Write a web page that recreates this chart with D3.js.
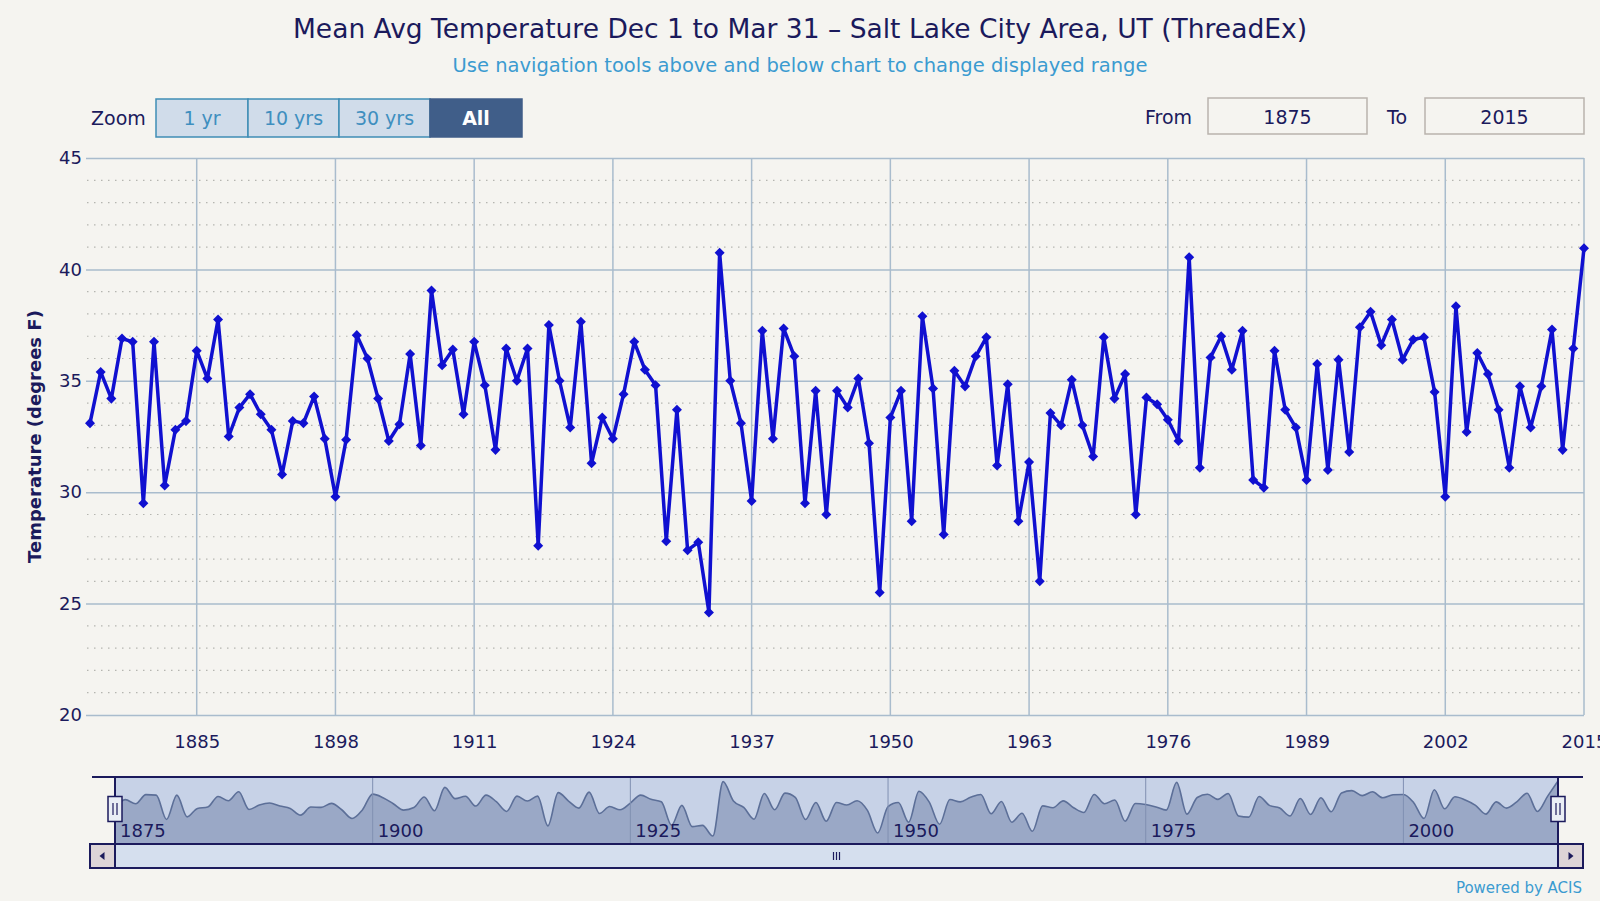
<!DOCTYPE html>
<html>
<head>
<meta charset="utf-8">
<script src="https://cdn.jsdelivr.net/npm/d3@7"></script>
<style>
  html, body { margin: 0; padding: 0; background: #f5f4f0; }
  svg { display: block; font-family: "DejaVu Sans", Verdana, sans-serif; }
</style>
</head>
<body>
<svg id="chart" width="1600" height="901"></svg>
<script>
// Mean Dec 1 - Mar 31 temperature, one value per winter
const startYear = 1875;
const temps = [
  33.1, 35.4, 34.2, 36.9, 36.75, 29.5, 36.75, 30.3, 32.8, 33.2,   // 1875-1884
  36.35, 35.1, 37.75, 32.5, 33.8, 34.4, 33.5, 32.8, 30.8, 33.2,   // 1885-1894
  33.1, 34.3, 32.4, 29.8, 32.35, 37.05, 36.0, 34.2, 32.3, 33.05,  // 1895-1904
  36.2, 32.1, 39.05, 35.7, 36.4, 33.5, 36.75, 34.8, 31.9, 36.45,  // 1905-1914
  35.0, 36.45, 27.6, 37.5, 35.0, 32.9, 37.65, 31.3, 33.35, 32.4,  // 1915-1924
  34.4, 36.75, 35.5, 34.8, 27.8, 33.7, 27.4, 27.75, 24.6, 40.75,  // 1925-1934
  35.0, 33.1, 29.6, 37.25, 32.4, 37.35, 36.1, 29.5, 34.55, 29.0,  // 1935-1944
  34.55, 33.8, 35.1, 32.2, 25.5, 33.35, 34.55, 28.7, 37.9, 34.65, // 1945-1954
  28.1, 35.45, 34.75, 36.1, 36.95, 31.2, 34.85, 28.7, 31.35, 26.0, // 1955-1964
  33.55, 33.0, 35.05, 33.0, 31.6, 36.95, 34.2, 35.3, 29.0, 34.25,  // 1965-1974
  33.95, 33.25, 32.3, 40.55, 31.1, 36.05, 37.0, 35.5, 37.25, 30.55, // 1975-1984
  30.2, 36.35, 33.7, 32.9, 30.55, 35.75, 31.0, 35.95, 31.8, 37.4,   // 1985-1994
  38.1, 36.6, 37.75, 35.95, 36.85, 36.95, 34.5, 29.8, 38.35, 32.7,  // 1995-2004
  36.25, 35.3, 33.7, 31.1, 34.75, 32.9, 34.75, 37.3, 31.9, 36.45,   // 2005-2014
  40.95                                                             // 2015
];
const years = temps.map((t, i) => startYear + i);
const data = years.map((y, i) => ({ year: y, temp: temps[i] }));

const xTickYears = [1885, 1898, 1911, 1924, 1937, 1950, 1963, 1976, 1989, 2002, 2015];
const yTicks = [20, 25, 30, 35, 40, 45];
const navTickYears = [1875, 1900, 1925, 1950, 1975, 2000];
const zoomButtons = ['1 yr', '10 yrs', '30 yrs', 'All'];

const titleText = 'Mean Avg Temperature Dec 1 to Mar 31 \u2013 Salt Lake City Area, UT (ThreadEx)';
const subtitleText = 'Use navigation tools above and below chart to change displayed range';

const navy = '#1b1a5c';
const gridColor = '#a9bccd';
const lineColor = '#1010d0';

const svg = d3.select('#chart');

// ---------- title ----------
svg.append('text')
    .attr('x', 800).attr('y', 38)
    .attr('text-anchor', 'middle')
    .attr('font-size', 26.5)
    .attr('fill', navy)
    .text(titleText);

svg.append('text')
    .attr('x', 800).attr('y', 72)
    .attr('text-anchor', 'middle')
    .attr('font-size', 19.5)
    .attr('fill', '#3b9bd0')
    .text(subtitleText);

// ---------- range selector ----------
svg.append('text')
    .attr('x', 91).attr('y', 125)
    .attr('font-size', 19)
    .attr('fill', navy)
    .text('Zoom');

const btnX = [156, 248, 339, 430, 522];
const btn = svg.append('g').selectAll('g')
  .data(zoomButtons)
  .join('g');
btn.append('rect')
    .attr('x', (d, i) => btnX[i])
    .attr('y', 99)
    .attr('width', (d, i) => btnX[i + 1] - btnX[i])
    .attr('height', 38)
    .attr('fill', d => d === 'All' ? '#405e89' : '#d0dcea')
    .attr('stroke', d => d === 'All' ? '#405e89' : '#3f8db5')
    .attr('stroke-width', 1.5);
btn.append('text')
    .attr('x', (d, i) => (btnX[i] + btnX[i + 1]) / 2)
    .attr('y', 125)
    .attr('text-anchor', 'middle')
    .attr('font-size', 19)
    .attr('font-weight', d => d === 'All' ? 'bold' : 'normal')
    .attr('fill', d => d === 'All' ? '#ffffff' : '#3f8fbf')
    .text(d => d);

function inputBox(label, labelX, x, value) {
  svg.append('text')
      .attr('x', labelX).attr('y', 124)
      .attr('font-size', 19)
      .attr('fill', navy)
      .text(label);
  svg.append('rect')
      .attr('x', x).attr('y', 98)
      .attr('width', 159).attr('height', 36)
      .attr('fill', '#f5f4f0')
      .attr('stroke', '#b9b3ad')
      .attr('stroke-width', 1.5);
  svg.append('text')
      .attr('x', x + 79.5).attr('y', 124)
      .attr('text-anchor', 'middle')
      .attr('font-size', 19)
      .attr('fill', navy)
      .text(value);
}
inputBox('From', 1145, 1208, years[0]);
inputBox('To', 1387, 1425, years[years.length - 1]);

// ---------- main plot ----------
const plot = { left: 90, right: 1584, top: 158, bottom: 715 };

const x = d3.scaleLinear()
    .domain([startYear, years[years.length - 1]])
    .range([plot.left, plot.right]);
const y = d3.scaleLinear()
    .domain([20, 45])
    .range([plot.bottom, plot.top]);

// minor dotted grid every degree
const minor = d3.range(21, 45).filter(v => v % 5 !== 0);
svg.append('g').selectAll('line')
  .data(minor)
  .join('line')
    .attr('x1', plot.left - 3).attr('x2', plot.right)
    .attr('y1', d => y(d)).attr('y2', d => y(d))
    .attr('stroke', '#b5b5b0')
    .attr('stroke-width', 1.2)
    .attr('stroke-dasharray', '1.5,5.5');

// major horizontal grid + y axis labels
const yAxis = d3.axisLeft(y)
    .tickValues(yTicks)
    .tickSize(plot.right - plot.left + 4)
    .tickPadding(4);
svg.append('g')
    .attr('transform', `translate(${plot.right},0)`)
    .call(yAxis)
    .call(g => g.select('.domain').remove())
    .call(g => g.selectAll('.tick line').attr('stroke', gridColor).attr('stroke-width', 1.5))
    .call(g => g.selectAll('.tick text')
        .attr('font-size', 18).attr('fill', navy)
        .attr('font-family', '"DejaVu Sans", Verdana, sans-serif'));

// vertical grid + x axis labels
const xAxis = d3.axisBottom(x)
    .tickValues(xTickYears)
    .tickFormat(d3.format('d'))
    .tickSize(0)
    .tickPadding(20);
svg.append('g')
    .attr('transform', `translate(0,${plot.bottom})`)
    .call(xAxis)
    .call(g => g.select('.domain').remove())
    .call(g => g.selectAll('.tick text')
        .attr('font-size', 18).attr('fill', navy)
        .attr('font-family', '"DejaVu Sans", Verdana, sans-serif'));

svg.append('g').selectAll('line')
  .data(xTickYears)
  .join('line')
    .attr('x1', d => x(d)).attr('x2', d => x(d))
    .attr('y1', plot.top).attr('y2', plot.bottom)
    .attr('stroke', gridColor)
    .attr('stroke-width', 1.5);

// y title
svg.append('text')
    .attr('transform', `translate(41,${(plot.top + plot.bottom) / 2}) rotate(-90)`)
    .attr('text-anchor', 'middle')
    .attr('font-size', 18)
    .attr('font-weight', 'bold')
    .attr('fill', navy)
    .text('Temperature (degrees F)');

// series
const line = d3.line()
    .x(d => x(d.year))
    .y(d => y(d.temp));

svg.append('path')
    .datum(data)
    .attr('fill', 'none')
    .attr('stroke', lineColor)
    .attr('stroke-width', 3.5)
    .attr('stroke-linejoin', 'round')
    .attr('d', line);

const diamond = d3.symbol().type(d3.symbolDiamond2).size(64);
svg.append('g').selectAll('path')
  .data(data)
  .join('path')
    .attr('transform', d => `translate(${x(d.year)},${y(d.temp)})`)
    .attr('d', diamond)
    .attr('fill', lineColor);

// ---------- navigator ----------
const nav = { left: 115, right: 1558, top: 777, bottom: 844 };
const nx = d3.scaleLinear()
    .domain([startYear, years[years.length - 1]])
    .range([nav.left, nav.right]);
const ny = d3.scaleLinear()
    .domain(d3.extent(temps))
    .range([836, 781]);

svg.append('rect')
    .attr('x', nav.left).attr('y', nav.top)
    .attr('width', nav.right - nav.left).attr('height', nav.bottom - nav.top)
    .attr('fill', '#c7d2e7');

const navArea = d3.area()
    .curve(d3.curveMonotoneX)
    .x(d => nx(d.year))
    .y0(nav.bottom)
    .y1(d => ny(d.temp));
svg.append('path')
    .datum(data)
    .attr('fill', '#9aa8c6')
    .attr('d', navArea);
svg.append('path')
    .datum(data)
    .attr('fill', 'none')
    .attr('stroke', '#5c6f98')
    .attr('stroke-width', 1.6)
    .attr('d', navArea.lineY1());

svg.append('g').selectAll('line')
  .data(navTickYears.slice(1))
  .join('line')
    .attr('x1', d => nx(d)).attr('x2', d => nx(d))
    .attr('y1', nav.top).attr('y2', nav.bottom)
    .attr('stroke', '#8090b2')
    .attr('stroke-width', 1);

svg.append('g').selectAll('text')
  .data(navTickYears)
  .join('text')
    .attr('x', d => nx(d) + 5)
    .attr('y', 837)
    .attr('font-size', 18)
    .attr('fill', navy)
    .text(d => d);

// outline
svg.append('line')
    .attr('x1', 92).attr('x2', 1583)
    .attr('y1', nav.top).attr('y2', nav.top)
    .attr('stroke', navy).attr('stroke-width', 2);
[nav.left, nav.right].forEach(px => {
  svg.append('line')
      .attr('x1', px).attr('x2', px)
      .attr('y1', nav.top).attr('y2', nav.bottom)
      .attr('stroke', navy).attr('stroke-width', 2);
});

// scrollbar
svg.append('rect')
    .attr('x', 90).attr('y', nav.bottom)
    .attr('width', 1493).attr('height', 24)
    .attr('fill', '#d5dfee')
    .attr('stroke', navy).attr('stroke-width', 2);
[[90, -1], [1558, 1]].forEach(([bx, dir]) => {
  svg.append('rect')
      .attr('x', bx).attr('y', nav.bottom)
      .attr('width', 25).attr('height', 24)
      .attr('fill', '#ddd4d7')
      .attr('stroke', navy).attr('stroke-width', 2);
  const cx = bx + 12.5, cy = nav.bottom + 12;
  svg.append('path')
      .attr('d', dir < 0
        ? `M${cx + 2},${cy - 4}L${cx - 3},${cy}L${cx + 2},${cy + 4}Z`
        : `M${cx - 2},${cy - 4}L${cx + 3},${cy}L${cx - 2},${cy + 4}Z`)
      .attr('fill', navy);
});
// grip
const gripX = (nav.left + nav.right) / 2;
[-3, 0, 3].forEach(o => {
  svg.append('line')
      .attr('x1', gripX + o).attr('x2', gripX + o)
      .attr('y1', nav.bottom + 8).attr('y2', nav.bottom + 16)
      .attr('stroke', navy).attr('stroke-width', 1.2);
});

// handles
[nav.left, nav.right].forEach(px => {
  const g = svg.append('g').attr('transform', `translate(${px},809)`);
  g.append('rect')
      .attr('x', -7).attr('y', -12.5)
      .attr('width', 14).attr('height', 25)
      .attr('fill', '#eaeef5')
      .attr('stroke', navy).attr('stroke-width', 1.5);
  [-2, 2].forEach(o => g.append('line')
      .attr('x1', o).attr('x2', o).attr('y1', -6).attr('y2', 6)
      .attr('stroke', navy).attr('stroke-width', 1.2));
});

// credits
svg.append('text')
    .attr('x', 1582).attr('y', 893)
    .attr('text-anchor', 'end')
    .attr('font-size', 15)
    .attr('fill', '#3b9bd0')
    .text('Powered by ACIS');
</script>
</body>
</html>
